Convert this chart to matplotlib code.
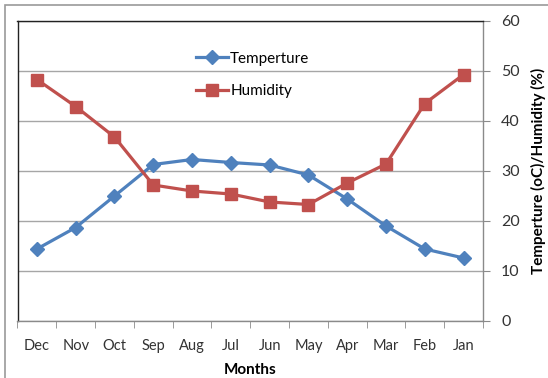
import matplotlib.pyplot as plt
from matplotlib.patches import Rectangle

months = ['Dec', 'Nov', 'Oct', 'Sep', 'Aug', 'Jul', 'Jun', 'May', 'Apr', 'Mar', 'Feb', 'Jan']
temperature = [14.4, 18.7, 25.0, 31.3, 32.3, 31.7, 31.2, 29.2, 24.4, 19.0, 14.4, 12.6]
humidity = [48.3, 42.9, 36.8, 27.2, 26.0, 25.4, 23.8, 23.3, 27.6, 31.4, 43.5, 49.3]
y_ticks = [0, 10, 20, 30, 40, 50, 60]

plt.rcParams['font.family'] = ['Lato', 'DejaVu Sans']

W, H = 548, 378
fig = plt.figure(figsize=(W / 100, H / 100), dpi=100)
ax = fig.add_axes([17.5 / W, 1 - 321 / H, (483 - 17.5) / W, 300 / H])

# outer chart frame
fig.patches.append(Rectangle((5 / W, -0.05), 1.1, 1 - 5 / H + 0.05, transform=fig.transFigure,
                             fill=False, edgecolor='#9a9a9a', linewidth=1.2, clip_on=False))

x = list(range(len(months)))
ax.plot(x, temperature, color='#4F81BD', linewidth=2.3, marker='D', markersize=7,
        label='Temperture', zorder=3)
ax.plot(x, humidity, color='#C0504D', linewidth=2.3, marker='s', markersize=8,
        label='Humidity', zorder=4)

ax.set_xlim(-0.5, len(months) - 0.5)
ax.set_ylim(0, 60)
ax.set_xticks(x)
ax.set_xticklabels(months, fontsize=10.5, color='#333333')
ax.set_xticks([i - 0.5 for i in range(len(months) + 1)], minor=True)
ax.tick_params(axis='x', which='major', length=0, pad=13)
ax.tick_params(axis='x', which='minor', length=5, color='#8a8a8a', direction='out')

ax.yaxis.tick_right()
ax.yaxis.set_label_position('right')
ax.set_yticks(y_ticks)
ax.tick_params(axis='y', length=5, color='#8a8a8a', labelsize=11.5, pad=8, labelcolor='#333333')
ax.grid(axis='y', color='#a6a6a6', linewidth=1)
ax.set_axisbelow(True)

for side in ['left', 'top']:
    ax.spines[side].set_color('#222222')
    ax.spines[side].set_linewidth(1)
for side in ['right', 'bottom']:
    ax.spines[side].set_color('#8a8a8a')
    ax.spines[side].set_linewidth(1)

ax.set_xlabel('Months', fontsize=11, fontweight='bold', labelpad=7)
ax.set_ylabel('Temperture (oC)/Humidity (%)', fontsize=11, fontweight='bold', labelpad=8)

ax.legend(loc='center', bbox_to_anchor=(0.505, 0.82), frameon=False, fontsize=11,
          handlelength=2.1, handletextpad=0.15, labelspacing=1.2)

fig.savefig('out.png', dpi=100)
